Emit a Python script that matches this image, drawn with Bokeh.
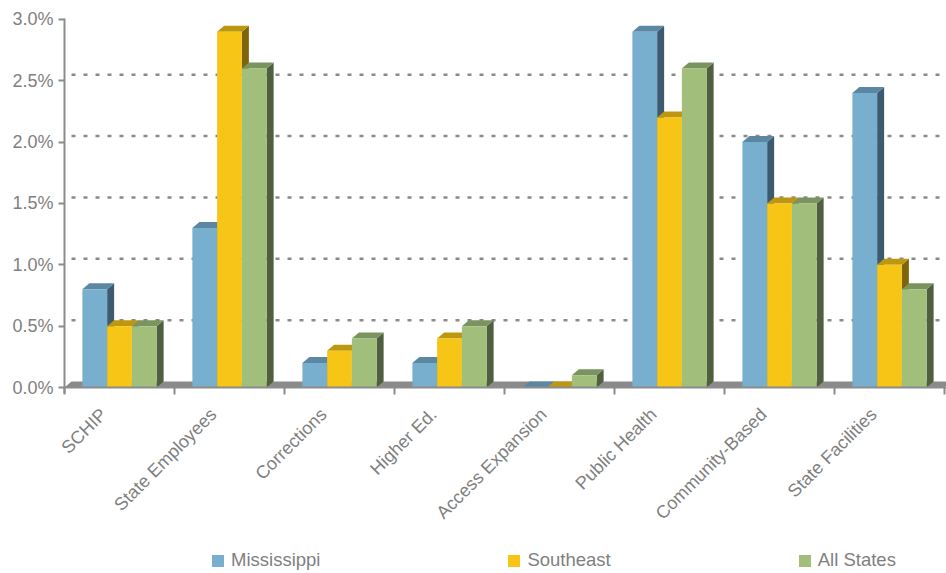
from bokeh.plotting import figure
from bokeh.models import (FixedTicker, PrintfTickFormatter, LinearAxis,
                          Range1d, Legend, LegendItem)
from bokeh.embed import file_html
from bokeh.resources import INLINE
import math

# ---------------- data ----------------
categories = ["SCHIP", "State Employees", "Corrections", "Higher Ed.",
              "Access Expansion", "Public Health", "Community-Based", "State Facilities"]
mississippi = [0.8, 1.3, 0.2, 0.2, 0.0, 2.9, 2.0, 2.4]
southeast = [0.5, 2.9, 0.3, 0.4, 0.0, 2.2, 1.5, 1.0]
all_states = [0.5, 2.6, 0.4, 0.5, 0.1, 2.6, 1.5, 0.8]
series_names = ["Mississippi", "Southeast", "All States"]
y_ticks = [0.0, 0.5, 1.0, 1.5, 2.0, 2.5, 3.0]

# ---------------- style ----------------
FONT = "Liberation Sans"
TXT = "#7f7f7f"
AX = "#8c8c8c"
front_cols = ["#78afce", "#f6c515", "#a1bf7b"]
top_cols = ["#5a88a2", "#bd970f", "#7b935e"]
side_cols = ["#3d5a6e", "#7f650a", "#505f40"]

W, H = 946, 573
n = len(categories)
X0_PX, PX_X = 64, 110.0       # pixel column of the value axis, pixels per category
Y0_PX, PX_Y = 387, 122.7      # pixel row of 0 %, pixels per 1 %
x_start, x_end = -X0_PX / PX_X, (W - X0_PX) / PX_X
y_start, y_end = -(H - Y0_PX) / PX_Y, Y0_PX / PX_Y
DX = 7 / PX_X                 # 3D depth in data units
DY = 6 / PX_Y
BW = 0.225                    # bar width in category units
LABEL_SHIFT = 16 / PX_X       # category labels sit a little left of centre

p = figure(width=W, height=H, output_backend="svg", toolbar_location=None,
           x_range=Range1d(x_start, x_end), y_range=Range1d(y_start, y_end),
           min_border_left=0, min_border_right=0, min_border_top=0,
           min_border_bottom=0, x_axis_type=None, y_axis_type=None)
p.outline_line_color = None
p.background_fill_color = "white"
p.border_fill_color = "white"
p.extra_x_ranges = {"cat": Range1d(x_start + LABEL_SHIFT, x_end + LABEL_SHIFT)}

# back-wall dotted grid lines (inner ticks only)
grid_vals = y_ticks[1:-1]
p.segment(x0=[DX] * len(grid_vals), x1=[n + DX] * len(grid_vals),
          y0=[t + DY for t in grid_vals], y1=[t + DY for t in grid_vals],
          line_color="#8a8a8a", line_width=2.5, line_dash="4 8")

# floor
p.patch(x=[0, n, n + DX, DX], y=[0, 0, DY, DY], fill_color="#8a8a8a", line_color=None)

# bars
legend_rs = []
for k, vals in enumerate([mississippi, southeast, all_states]):
    lefts = [i + 0.5 - 1.5 * BW + k * BW for i in range(n)]
    rights = [l + BW for l in lefts]
    side_xs = [[r, r + DX, r + DX, r] for r in rights]
    side_ys = [[0, DY, v + DY, v] for v in vals]
    top_xs = [[l, r, r + DX, l + DX] for l, r in zip(lefts, rights)]
    top_ys = [[v, v, v + DY, v + DY] for v in vals]
    p.patches(xs=side_xs, ys=side_ys, fill_color=side_cols[k], line_color=None)
    p.patches(xs=top_xs, ys=top_ys, fill_color=top_cols[k], line_color=None)
    r = p.quad(left=lefts, right=rights, bottom=[0] * n, top=vals,
               fill_color=front_cols[k], line_color=None)
    legend_rs.append(r)

# y axis (fixed at x = 0)
yax = LinearAxis(ticker=FixedTicker(ticks=y_ticks), fixed_location=0,
                 bounds=(-0.05, 3.005),
                 formatter=PrintfTickFormatter(format="%.1f%%"))
yax.axis_line_color = AX
yax.axis_line_width = 2
yax.major_tick_line_color = AX
yax.major_tick_line_width = 2
yax.major_tick_out = 6
yax.major_tick_in = 0
yax.minor_tick_line_color = None
yax.major_label_standoff = 5
yax.major_label_text_font = FONT
yax.major_label_text_font_size = "18px"
yax.major_label_text_color = TXT
p.add_layout(yax, "left")

# x axis: category boundary ticks (fixed at y = 0)
xax = LinearAxis(ticker=FixedTicker(ticks=list(range(n + 1))), fixed_location=0,
                 bounds=(0, n + 0.02))
xax.axis_line_color = AX
xax.axis_line_width = 2
xax.major_tick_line_color = AX
xax.major_tick_line_width = 2
xax.major_tick_out = 7
xax.major_tick_in = 0
xax.minor_tick_line_color = None
xax.major_label_text_color = None
xax.major_label_text_font_size = "1px"
p.add_layout(xax, "below")

# x axis: category names (rotated)
cat_ticks = [i + 0.5 for i in range(n)]
cax = LinearAxis(x_range_name="cat", ticker=FixedTicker(ticks=cat_ticks), fixed_location=0,
                 major_label_overrides={t: c for t, c in zip(cat_ticks, categories)})
cax.axis_line_color = None
cax.major_tick_line_color = None
cax.major_tick_out = 0
cax.major_tick_in = 0
cax.minor_tick_line_color = None
cax.major_label_standoff = 24
cax.major_label_orientation = math.pi / 4
cax.major_label_text_font = FONT
cax.major_label_text_font_size = "18px"
cax.major_label_text_color = TXT
p.add_layout(cax, "below")

# legend (inside the full-canvas frame)
legend = Legend(items=[LegendItem(label=nm, renderers=[r]) for nm, r in zip(series_names, legend_rs)],
                location=(210, 2), orientation="horizontal", spacing=186,
                glyph_width=15, glyph_height=15, label_standoff=6, padding=0, margin=0,
                border_line_color=None, background_fill_alpha=0,
                label_text_font=FONT, label_text_font_size="18.5px", label_text_color=TXT)
p.add_layout(legend)

open("out.html", "w").write(file_html(p, INLINE))
